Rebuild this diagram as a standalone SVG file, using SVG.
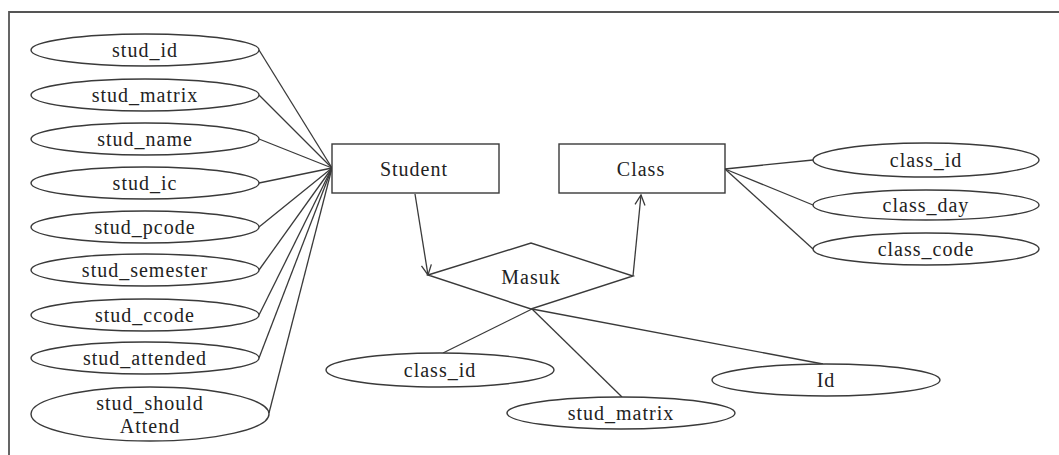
<svg xmlns="http://www.w3.org/2000/svg" width="1059" height="455" viewBox="0 0 1059 455">
<style>
.shape{fill:#fff;stroke:#3a3a3a;stroke-width:1.4}
.ln{stroke:#3a3a3a;stroke-width:1.3;fill:none}
.frame{stroke:#555;stroke-width:1.8;fill:none}
text{font-family:"Liberation Serif","Times New Roman",serif;font-size:20px;fill:#222;text-anchor:middle;letter-spacing:1px}
</style>
<defs>
<marker id="arr" markerWidth="12" markerHeight="12" refX="11" refY="6" orient="auto" markerUnits="userSpaceOnUse">
<path d="M1,1 L11,6 L1,11" fill="none" stroke="#3a3a3a" stroke-width="1.3"/>
</marker>
</defs>
<rect width="1059" height="455" fill="#fff"/>
<path class="frame" d="M9,455 L9,12 L1059,12"/>
<g id="connectors">
<line class="ln" x1="259" y1="50" x2="332" y2="168"/>
<line class="ln" x1="259" y1="95" x2="332" y2="168"/>
<line class="ln" x1="259" y1="139" x2="332" y2="168"/>
<line class="ln" x1="259" y1="183" x2="332" y2="168"/>
<line class="ln" x1="259" y1="227" x2="332" y2="168"/>
<line class="ln" x1="259" y1="270" x2="332" y2="168"/>
<line class="ln" x1="259" y1="315" x2="332" y2="168"/>
<line class="ln" x1="259" y1="358" x2="332" y2="168"/>
<line class="ln" x1="269" y1="413" x2="332" y2="168"/>
<line class="ln" x1="725" y1="169" x2="813" y2="160"/>
<line class="ln" x1="725" y1="169" x2="813" y2="205"/>
<line class="ln" x1="725" y1="169" x2="813" y2="249"/>
<line class="ln" x1="415" y1="194" x2="428" y2="275" marker-end="url(#arr)"/>
<line class="ln" x1="633" y1="276" x2="641" y2="195" marker-end="url(#arr)"/>
<line class="ln" x1="532" y1="309" x2="443" y2="353"/>
<line class="ln" x1="532" y1="309" x2="622" y2="397"/>
<line class="ln" x1="532" y1="309" x2="823" y2="364"/>
</g>
<g id="stud_id"><ellipse class="shape" cx="145" cy="50" rx="114" ry="16"/><text x="145" y="57">stud_id</text></g>
<g id="stud_matrix"><ellipse class="shape" cx="145" cy="95" rx="114" ry="16"/><text x="145" y="102">stud_matrix</text></g>
<g id="stud_name"><ellipse class="shape" cx="145" cy="139" rx="114" ry="16"/><text x="145" y="146">stud_name</text></g>
<g id="stud_ic"><ellipse class="shape" cx="145" cy="183" rx="114" ry="16"/><text x="145" y="190">stud_ic</text></g>
<g id="stud_pcode"><ellipse class="shape" cx="145" cy="227" rx="114" ry="16"/><text x="145" y="234">stud_pcode</text></g>
<g id="stud_semester"><ellipse class="shape" cx="145" cy="270" rx="114" ry="16"/><text x="145" y="277">stud_semester</text></g>
<g id="stud_ccode"><ellipse class="shape" cx="145" cy="315" rx="114" ry="16"/><text x="145" y="322">stud_ccode</text></g>
<g id="stud_attended"><ellipse class="shape" cx="145" cy="358" rx="114" ry="16"/><text x="145" y="365">stud_attended</text></g>
<g id="stud_shouldAttend"><ellipse class="shape" cx="150" cy="414" rx="119" ry="27"/><text x="150" y="410">stud_should</text><text x="150" y="433">Attend</text></g>
<g id="Student"><rect class="shape" x="332" y="144" width="167" height="49"/><text x="414" y="176">Student</text></g>
<g id="Class"><rect class="shape" x="559" y="144" width="166" height="49"/><text x="641" y="176">Class</text></g>
<g id="Masuk"><polygon class="shape" points="428,275 531,243 633,276 531,309"/><text x="531" y="284">Masuk</text></g>
<g id="class_id_r"><ellipse class="shape" cx="926" cy="160" rx="113" ry="17"/><text x="926" y="167">class_id</text></g>
<g id="class_day"><ellipse class="shape" cx="926" cy="205" rx="113" ry="15"/><text x="926" y="212">class_day</text></g>
<g id="class_code"><ellipse class="shape" cx="926" cy="249" rx="113" ry="16"/><text x="926" y="256">class_code</text></g>
<g id="class_id_b"><ellipse class="shape" cx="440" cy="370" rx="114" ry="17"/><text x="440" y="377">class_id</text></g>
<g id="stud_matrix_b"><ellipse class="shape" cx="621" cy="413" rx="114" ry="16"/><text x="621" y="420">stud_matrix</text></g>
<g id="Id"><ellipse class="shape" cx="826" cy="380" rx="114" ry="16"/><text x="826" y="387">Id</text></g>
</svg>
